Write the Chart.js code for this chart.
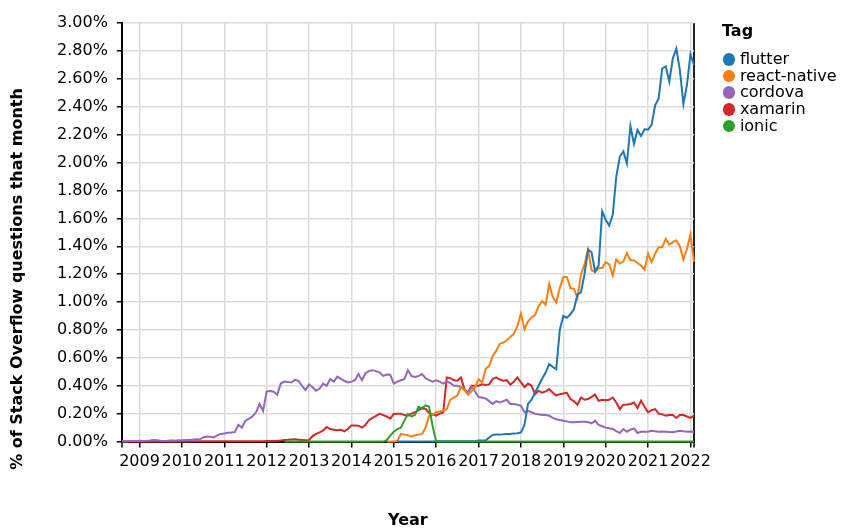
<!DOCTYPE html>
<html>
<head>
<meta charset="utf-8">
<script src="https://cdn.jsdelivr.net/npm/chart.js@4"></script>
<style>
  html, body { margin: 0; padding: 0; background: #fff; }
  #wrap { position: relative; width: 843px; height: 528px; }
  #legend { position: absolute; left: 722px; top: 21px; font-family: "DejaVu Sans", sans-serif; font-size: 16px; color: #000; }
  #legend .title { font-weight: bold; height: 19px; line-height: 19px; margin-bottom: 11px; }
  #legend .item { display: flex; align-items: center; height: 16.7px; }
  #legend .dot { width: 12.7px; height: 12.7px; border-radius: 50%; margin-left: 0.6px; }
  #legend .label { margin-left: 4.6px; line-height: 16.7px; white-space: nowrap; }
</style>
</head>
<body>
<div id="wrap">
  <canvas id="chart" width="843" height="528"></canvas>
  <div id="legend"></div>
</div>
<script>
// monthly share of Stack Overflow questions (%)
const yearTicks = [2009, 2010, 2011, 2012, 2013, 2014, 2015, 2016, 2017, 2018, 2019, 2020, 2021, 2022];
const firstMonth = "2008-08";
const lastMonth = "2022-02";

const tagNames = ["flutter", "react-native", "cordova", "xamarin", "ionic"];
const tagColors = ["#1f77b4", "#ff7f0e", "#9467bd", "#d62728", "#2ca02c"];

const flutterFrom = "2015-02";
const flutter = [
  0, 0, 0, 0, 0, 0, 0, 0, 0, 0, 0,
  0.002, 0.002, 0.002, 0.002, 0.002, 0.002, 0.002, 0.002, 0.002, 0.002, 0.002,
  0.004, 0.007, 0.007, 0.008, 0.030, 0.048, 0.050, 0.050, 0.052, 0.055,
  0.055, 0.058, 0.060, 0.066, 0.120, 0.270, 0.300, 0.350, 0.400, 0.450,
  0.495, 0.555, 0.536, 0.519, 0.800, 0.900, 0.888, 0.912, 0.948, 1.055,
  1.070, 1.200, 1.376, 1.357, 1.220, 1.262, 1.650, 1.590, 1.548, 1.626,
  1.900, 2.043, 2.080, 1.995, 2.262, 2.134, 2.234, 2.190, 2.238, 2.236,
  2.270, 2.410, 2.460, 2.674, 2.690, 2.580, 2.745, 2.817, 2.662, 2.420,
  2.555, 2.776, 2.698
];

const reactNativeFrom = "2014-11";
const reactNative = [
  0, 0, 0,
  0.005, 0.055, 0.050, 0.045, 0.036, 0.045, 0.050, 0.055, 0.100, 0.186, 0.190, 0.210,
  0.215, 0.220, 0.233, 0.300, 0.316, 0.330, 0.393, 0.370, 0.336, 0.360,
  0.390, 0.448, 0.424, 0.520, 0.543, 0.614, 0.650, 0.700, 0.710, 0.726,
  0.750, 0.774, 0.830, 0.917, 0.805, 0.860, 0.890, 0.907, 0.971, 1.007,
  0.980, 1.130, 1.036, 0.995, 1.100, 1.180, 1.180, 1.100, 1.095, 1.030,
  1.198, 1.270, 1.376, 1.229, 1.214, 1.245, 1.245, 1.286, 1.270, 1.190,
  1.305, 1.276, 1.290, 1.352, 1.300, 1.300, 1.280, 1.262, 1.233, 1.348,
  1.286, 1.348, 1.393, 1.393, 1.452, 1.412, 1.430, 1.443, 1.400, 1.305,
  1.380, 1.483, 1.290
];

const cordovaFrom = "2008-08";
const cordova = [
  0.002, 0.003, 0.004, 0.005, 0.004, 0.006, 0.005, 0.006, 0.008, 0.012,
  0.010, 0.007, 0.005, 0.006, 0.008, 0.007, 0.009, 0.010, 0.012, 0.011,
  0.014, 0.017, 0.015, 0.030, 0.036, 0.034, 0.030, 0.045, 0.055, 0.058,
  0.064, 0.066, 0.069, 0.120, 0.100, 0.150, 0.165, 0.180, 0.210, 0.270,
  0.220, 0.360, 0.362, 0.357, 0.336, 0.416, 0.430, 0.428, 0.424, 0.443,
  0.436, 0.400, 0.370, 0.410, 0.390, 0.364, 0.380, 0.416, 0.400, 0.448,
  0.430, 0.466, 0.450, 0.436, 0.424, 0.430, 0.440, 0.484, 0.440, 0.490,
  0.507, 0.512, 0.505, 0.495, 0.471, 0.480, 0.479, 0.416, 0.430, 0.440,
  0.448, 0.512, 0.470, 0.464, 0.470, 0.484, 0.455, 0.440, 0.430, 0.440,
  0.430, 0.416, 0.430, 0.420, 0.400, 0.400, 0.390, 0.370, 0.350, 0.390,
  0.360, 0.320, 0.315, 0.310, 0.290, 0.270, 0.290, 0.280, 0.290, 0.300,
  0.270, 0.270, 0.264, 0.257, 0.210, 0.220, 0.210, 0.200, 0.195, 0.190,
  0.190, 0.186, 0.170, 0.160, 0.155, 0.150, 0.145, 0.138, 0.138, 0.140,
  0.142, 0.143, 0.140, 0.130, 0.150, 0.120, 0.110, 0.100, 0.095, 0.090,
  0.075, 0.062, 0.090, 0.071, 0.085, 0.095, 0.062, 0.071, 0.070, 0.071,
  0.078, 0.074, 0.071, 0.072, 0.071, 0.069, 0.067, 0.073, 0.078, 0.074,
  0.071, 0.072, 0.071
];

const xamarinFrom = "2008-08";
const xamarin = [
  0.001, 0.001, 0.001, 0.001, 0.001, 0.001, 0.001, 0.001, 0.001, 0.001,
  0.001, 0.001, 0.001, 0.001, 0.001, 0.001, 0.001, 0.001, 0.001, 0.001,
  0.002, 0.002, 0.002, 0.002, 0.002, 0.002, 0.002, 0.002, 0.002, 0.002,
  0.002, 0.002, 0.003, 0.003, 0.003, 0.003, 0.003, 0.003, 0.003, 0.003,
  0.003, 0.004, 0.004, 0.005, 0.006, 0.008, 0.012, 0.013, 0.015, 0.016,
  0.014, 0.012, 0.010, 0.012, 0.040, 0.055, 0.066, 0.080, 0.105, 0.090,
  0.085, 0.082, 0.085, 0.074, 0.090, 0.116, 0.115, 0.114, 0.100, 0.120,
  0.155, 0.170, 0.185, 0.200, 0.190, 0.180, 0.165, 0.198, 0.200, 0.200,
  0.190, 0.186, 0.200, 0.210, 0.225, 0.238, 0.235, 0.205, 0.195, 0.186,
  0.200, 0.210, 0.460, 0.455, 0.440, 0.436, 0.460, 0.376, 0.350, 0.400,
  0.400, 0.400, 0.410, 0.405, 0.410, 0.448, 0.460, 0.445, 0.436, 0.440,
  0.407, 0.430, 0.460, 0.424, 0.390, 0.416, 0.400, 0.340, 0.364, 0.350,
  0.360, 0.376, 0.350, 0.330, 0.340, 0.345, 0.350, 0.305, 0.290, 0.264,
  0.316, 0.300, 0.305, 0.320, 0.336, 0.293, 0.300, 0.296, 0.300, 0.316,
  0.280, 0.233, 0.264, 0.266, 0.270, 0.280, 0.240, 0.293, 0.250, 0.210,
  0.225, 0.233, 0.200, 0.195, 0.186, 0.190, 0.190, 0.169, 0.190, 0.190,
  0.180, 0.170, 0.186
];

const ionicFrom = "2012-06";
const ionic = [
  0, 0, 0, 0, 0, 0, 0, 0, 0, 0,
  0, 0, 0, 0, 0, 0, 0, 0, 0, 0,
  0, 0, 0, 0, 0, 0, 0, 0, 0,
  0.010, 0.043, 0.070, 0.090, 0.100, 0.150, 0.198, 0.180, 0.190, 0.250,
  0.240, 0.260, 0.250, 0.110,
  0, 0, 0, 0, 0, 0, 0, 0, 0, 0,
  0, 0, 0, 0, 0, 0, 0, 0, 0, 0,
  0, 0, 0, 0, 0, 0, 0, 0, 0, 0,
  0, 0, 0, 0, 0, 0, 0, 0, 0, 0,
  0, 0, 0, 0, 0, 0, 0, 0, 0, 0,
  0, 0, 0, 0, 0, 0, 0, 0, 0, 0,
  0, 0, 0, 0, 0, 0, 0, 0, 0, 0,
  0, 0, 0, 0
];

const yTitle = "% of Stack Overflow questions that month";
const xTitle = "Year";
const legendTitle = "Tag";

function monthToX(str, offset) {
  const [y, m] = str.split("-").map(Number);
  return y + (m - 1 + (offset || 0)) / 12;
}
function toPoints(from, values) {
  return values.map((v, i) => ({ x: monthToX(from, i), y: v }));
}

const xMin = monthToX(firstMonth);
const xMax = monthToX(lastMonth);

const seriesData = [
  toPoints(flutterFrom, flutter),
  toPoints(reactNativeFrom, reactNative),
  toPoints(cordovaFrom, cordova),
  toPoints(xamarinFrom, xamarin),
  toPoints(ionicFrom, ionic)
];

const yTitlePlugin = {
  id: "yTitle",
  afterDraw(chart) {
    const c = chart.ctx;
    c.save();
    c.translate(18, 279);
    c.rotate(-Math.PI / 2);
    c.font = 'bold 16px "DejaVu Sans"';
    c.fillStyle = "#000";
    c.textAlign = "center";
    c.textBaseline = "middle";
    c.fillText(yTitle, 0, 0);
    c.restore();
  }
};

Chart.defaults.font.family = '"DejaVu Sans", sans-serif';
Chart.defaults.font.size = 16;
Chart.defaults.color = "#000";

new Chart(document.getElementById("chart"), {
  type: "line",
  data: {
    datasets: tagNames.map((name, i) => ({
      label: name,
      data: seriesData[i],
      borderColor: tagColors[i],
      backgroundColor: tagColors[i],
      borderWidth: 2,
      pointRadius: 0,
      fill: false,
      clip: false,
      order: name === "ionic" ? -1 : i
    }))
  },
  options: {
    responsive: false,
    animation: false,
    layout: { padding: { left: 48, right: 149, top: 23, bottom: 0 } },
    plugins: { legend: { display: false }, tooltip: { enabled: false } },
    scales: {
      x: {
        type: "linear",
        min: xMin,
        max: xMax,
        afterBuildTicks: (axis) => {
          axis.ticks = [xMin, ...yearTicks, xMax].map(v => ({ value: v }));
        },
        ticks: {
          autoSkip: false,
          maxRotation: 0,
          padding: 5,
          callback: (v) => (yearTicks.includes(v) ? String(v) : "")
        },
        grid: {
          color: (ctx) => {
            const v = ctx.tick ? ctx.tick.value : null;
            if (v === xMax) return "#222";
            if (v === xMin) return "#000";
            return "#dcdcdc";
          },
          lineWidth: (ctx) => (ctx.tick && (ctx.tick.value === xMax || ctx.tick.value === xMin) ? 2 : 1.5),
          tickLength: 6,
          tickColor: "#000",
          tickWidth: 1.5
        },
        border: { color: "#000", width: 2 },
        title: {
          display: true,
          text: xTitle,
          font: { size: 16, weight: "bold" },
          padding: { top: 34, bottom: -2 }
        }
      },
      y: {
        min: 0,
        max: 3,
        ticks: {
          stepSize: 0.2,
          padding: 9,
          callback: (v) => v.toFixed(2) + "%"
        },
        grid: { color: "#dcdcdc", lineWidth: 1.5, tickLength: 5, tickColor: "#000", tickWidth: 1.5 },
        border: { color: "#000", width: 2 }
      }
    }
  },
  plugins: [yTitlePlugin]
});

// legend
const legend = document.getElementById("legend");
const t = document.createElement("div");
t.className = "title";
t.textContent = legendTitle;
legend.appendChild(t);
tagNames.forEach((name, i) => {
  const row = document.createElement("div");
  row.className = "item";
  const dot = document.createElement("span");
  dot.className = "dot";
  dot.style.background = tagColors[i];
  const lab = document.createElement("span");
  lab.className = "label";
  lab.textContent = name;
  row.appendChild(dot);
  row.appendChild(lab);
  legend.appendChild(row);
});
</script>
</body>
</html>
